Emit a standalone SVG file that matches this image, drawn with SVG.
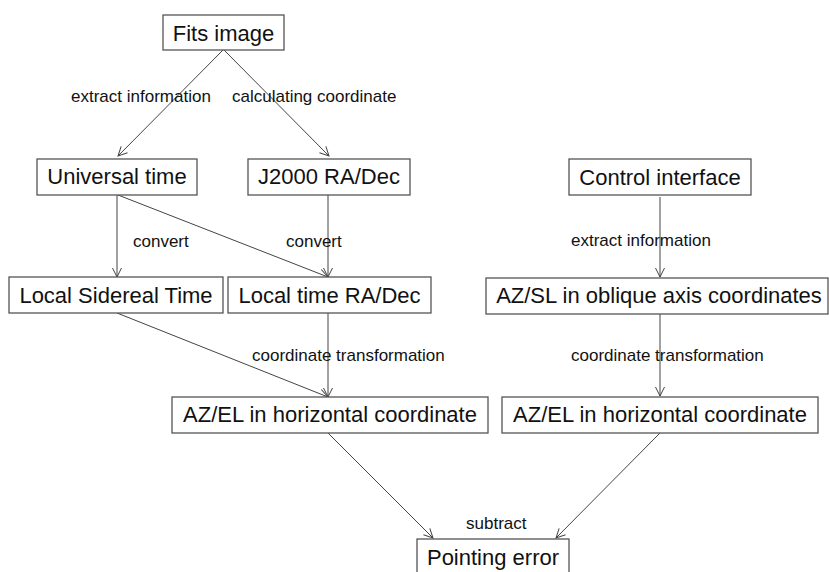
<svg xmlns="http://www.w3.org/2000/svg" width="829" height="572" viewBox="0 0 829 572">
<defs>
<marker id="arr" markerUnits="userSpaceOnUse" markerWidth="20" markerHeight="20" viewBox="-10 -10 20 20" refX="0" refY="0" orient="auto">
<path d="M-9,-4.5 L0,0 L-9,4.5" fill="none" stroke="#444" stroke-width="1"/>
</marker>
<style>
.box{fill:#fff;stroke:#555;stroke-width:1.3}
.nt{font-family:"Liberation Sans",Arial,sans-serif;font-size:22px;fill:#111;text-anchor:middle}
.lb{font-family:"Liberation Sans",Arial,sans-serif;font-size:17px;fill:#111}
.ln{stroke:#444;stroke-width:1;fill:none;marker-end:url(#arr)}
</style>
</defs>
<rect width="829" height="572" fill="#fff"/>
<g id="connectors">
<line class="ln" x1="223" y1="50" x2="118" y2="156"/>
<line class="ln" x1="224" y1="50" x2="329" y2="156"/>
<line class="ln" x1="117" y1="195" x2="117" y2="277"/>
<line class="ln" x1="118" y1="195" x2="328" y2="277"/>
<line class="ln" x1="328" y1="195" x2="328" y2="277"/>
<line class="ln" x1="117" y1="313" x2="328" y2="397"/>
<line class="ln" x1="328" y1="313" x2="328" y2="397"/>
<line class="ln" x1="660" y1="197" x2="660" y2="277"/>
<line class="ln" x1="660" y1="314" x2="660" y2="396"/>
<line class="ln" x1="328" y1="433" x2="433" y2="538"/>
<line class="ln" x1="660" y1="433" x2="556" y2="538"/>
</g>
<g id="labels">
<text class="lb" x="71" y="102">extract information</text>
<text class="lb" x="232" y="102">calculating coordinate</text>
<text class="lb" x="133" y="247">convert</text>
<text class="lb" x="286" y="247">convert</text>
<text class="lb" x="571" y="246">extract information</text>
<text class="lb" x="252" y="361">coordinate transformation</text>
<text class="lb" x="571" y="361">coordinate transformation</text>
<text class="lb" x="466" y="529">subtract</text>
</g>
<g id="fits"><rect class="box" x="163" y="15" width="121" height="35"/><text class="nt" x="223.5" y="41">Fits image</text></g>
<g id="ut"><rect class="box" x="37" y="159" width="160" height="36"/><text class="nt" x="117" y="184">Universal time</text></g>
<g id="j2000"><rect class="box" x="248" y="159" width="162" height="36"/><text class="nt" x="329" y="184">J2000 RA/Dec</text></g>
<g id="control"><rect class="box" x="569" y="159" width="182" height="36"/><text class="nt" x="660" y="185">Control interface</text></g>
<g id="lst"><rect class="box" x="9" y="277" width="214" height="36"/><text class="nt" x="116" y="303">Local Sidereal Time</text></g>
<g id="ltrd"><rect class="box" x="228" y="277" width="203" height="36"/><text class="nt" x="329.5" y="303">Local time RA/Dec</text></g>
<g id="azsl"><rect class="box" x="486" y="278" width="342" height="36"/><text class="nt" x="659" y="303">AZ/SL in oblique axis coordinates</text></g>
<g id="azel1"><rect class="box" x="172" y="397" width="316" height="36"/><text class="nt" x="330" y="422">AZ/EL in horizontal coordinate</text></g>
<g id="azel2"><rect class="box" x="502" y="397" width="316" height="36"/><text class="nt" x="660" y="422">AZ/EL in horizontal coordinate</text></g>
<g id="pointing"><rect class="box" x="417" y="539" width="152" height="40"/><text class="nt" x="493" y="565">Pointing error</text></g>
</svg>
